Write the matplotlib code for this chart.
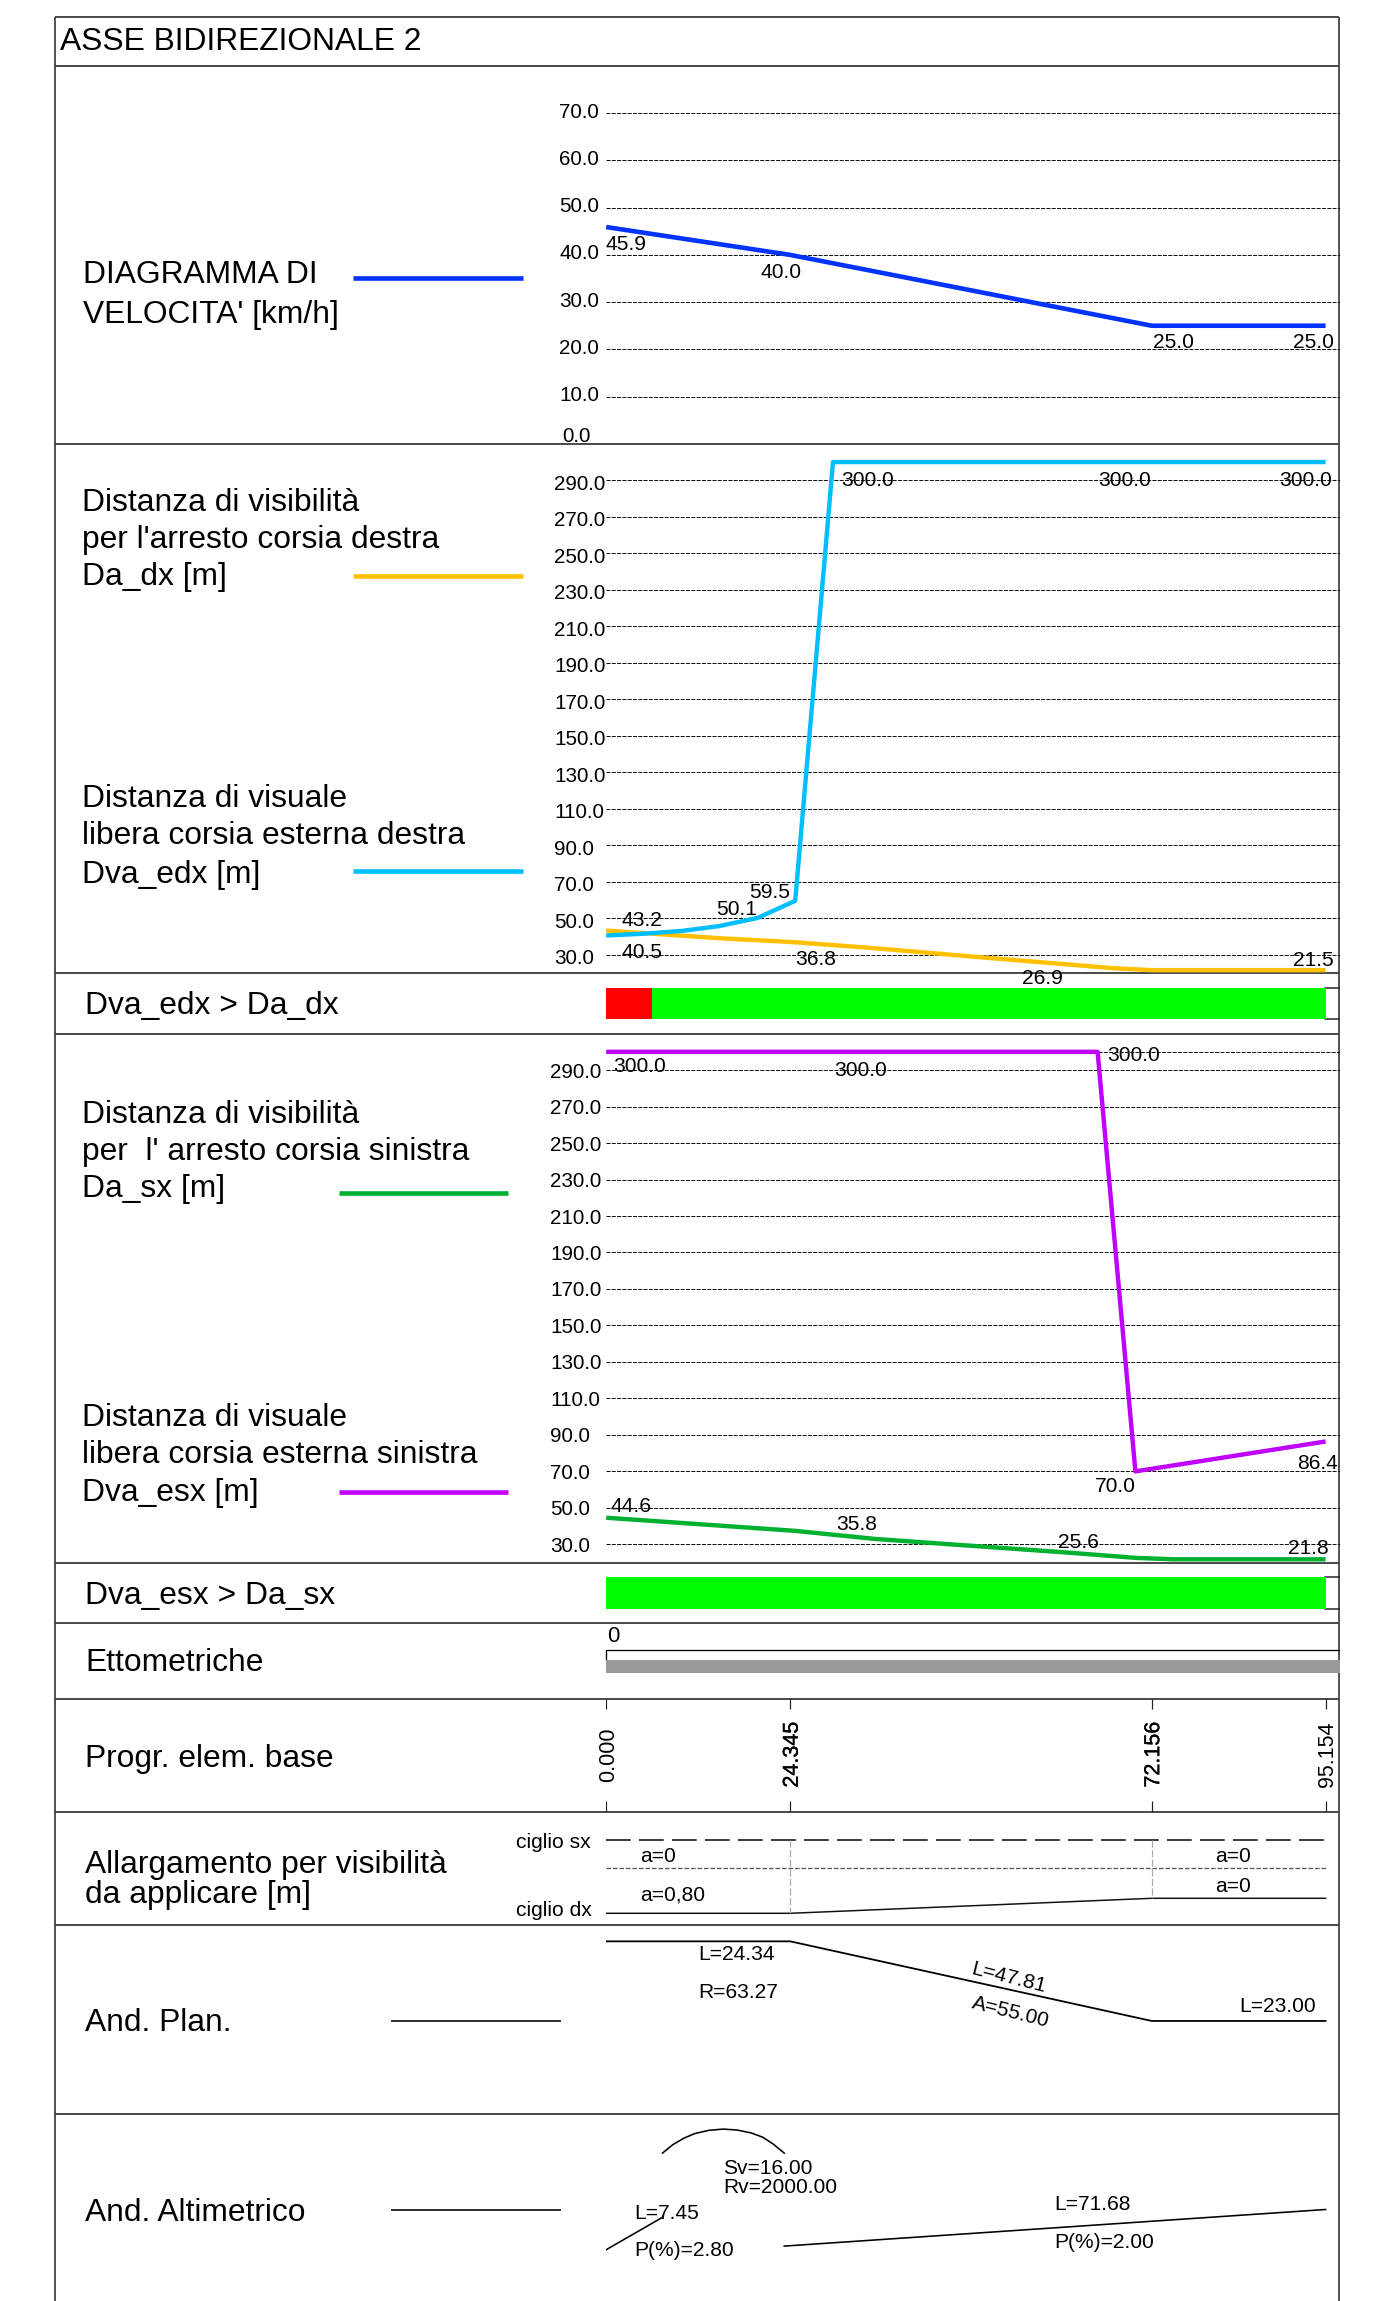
"""
Diagramma di velocita' e visibilita' - asse bidirezionale 2
"""
import matplotlib
matplotlib.use('Agg')
import matplotlib.pyplot as plt
import matplotlib.patheffects as pe
from matplotlib.transforms import ScaledTranslation

plt.rcParams['font.family'] = ['Liberation Sans', 'DejaVu Sans']

W, H = 1375, 2301
px = 0.72  # one pixel in points at dpi 100
FS_BIG = 22.9
FS_SMALL = 15.1
FS_TICK = 14.9

# progressive values
progr = [0.0, 24.345, 72.156, 95.154]
progr_labels = ['0.000', '24.345', '72.156', '95.154']

# speed diagram
speed_x = [0, 24.345, 72.156, 95.154]
speed_y = [45.9, 40.0, 25.0, 25.0]
speed_ticks = [0, 10, 20, 30, 40, 50, 60, 70]

# visibility, right lane
da_dx_x = [0, 15, 25, 35, 50, 60, 67, 72.156, 95.154]
da_dx_y = [43.2, 39.0, 36.8, 33.7, 28.4, 25.0, 22.6, 21.5, 21.5]
dva_edx_x = [0, 5, 10, 15, 20, 25, 30, 95.154]
dva_edx_y = [40.5, 41.5, 43.0, 45.7, 50.1, 59.5, 300.0, 300.0]

# visibility, left lane
da_sx_x = [0, 25, 35.5, 46.3, 60.7, 70, 75, 95.154]
da_sx_y = [44.6, 37.4, 33.0, 29.8, 25.6, 22.6, 21.8, 21.8]
dva_esx_x = [0, 65, 70, 95.154]
dva_esx_y = [300.0, 300.0, 70.0, 86.4]
dist_ticks = [30, 50, 70, 90, 110, 130, 150, 170, 190, 210, 230, 250, 270, 290]

# check bars (start, end of each stretch)
check_dx_red = (0, 6.1)
check_dx_green = (6.1, 95.154)
check_sx_green = (0, 95.154)

# widening at the right edge
allarg_x = [0, 24.345, 72.156, 95.154]
allarg_y = [0.8, 0.8, 0.0, 0.0]

# plan: curvature 1000/R
plan_x = [0, 24.345, 72.156, 95.154]
plan_y = [15.8, 15.8, 0, 0]

# profile: schematic heights
alt_grade1_x = [0, 7.45]
alt_grade1_y = [0, 10.8]
alt_arc_x = [7.45, 8.8, 10.3, 11.7, 13.6, 15.5, 17.3, 19.2, 20.7, 22.1, 23.55]
alt_arc_y = [32.2, 35, 37.2, 38.7, 39.8, 40.2, 39.9, 38.9, 37.5, 35.2, 32.2]
alt_grade2_x = [23.55, 95.154]
alt_grade2_y = [1.2, 13.4]

fig = plt.figure(figsize=(W / 100, H / 100), dpi=100, facecolor='white')

# sheet in pixel coordinates for frame and text
bg = fig.add_axes([0, 0, 1, 1])
bg.set_xlim(0, W)
bg.set_ylim(H, 0)
bg.axis('off')

X0, X1 = 606.2, 1339.5
XMAX = (X1 - X0) / 7.56


def panel(top, bottom, ylim):
    ax = fig.add_axes([X0 / W, 1 - bottom / H, (X1 - X0) / W, (bottom - top) / H])
    ax.set_xlim(0, XMAX)
    ax.set_ylim(*ylim)
    ax.patch.set_alpha(0)
    for s in ax.spines.values():
        s.set_visible(False)
    ax.set_xticks([])
    ax.set_yticks([])
    return ax


def graph(top, bottom, ylim, ticks, fmt_left, dy):
    ax = panel(top, bottom, ylim)
    ax.set_yticks(ticks)
    ax.set_yticklabels(['%.1f' % t for t in ticks], fontsize=FS_TICK, ha='left')
    ax.tick_params(axis='y', length=0, pad=(X0 - fmt_left) * px)
    ax.grid(True, axis='y', color='#111111', lw=1.0 * px, ls=(0, (4, 1.3)))
    ax.set_axisbelow(True)
    off = ScaledTranslation(0, -dy * px / 72, fig.dpi_scale_trans)
    for lab in ax.get_yticklabels():
        lab.set_transform(lab.get_transform() + off)
    return ax


# frame and row lines
for y in [17, 66, 443.8, 972.9, 1033.6, 1562.6, 1623, 1698.7, 1811.7, 1925.3, 2114.3]:
    bg.plot([55, 1339.5], [y, y], color='#222222', lw=1.6 * px, solid_capstyle='butt')
for x in [55, 1339.5]:
    bg.plot([x, x], [17, H], color='#444444', lw=1.8 * px, solid_capstyle='butt')

# labels on the left
big_texts = [
    ('ASSE BIDIREZIONALE 2', 60, 50),
    ('DIAGRAMMA DI', 83, 283),
    ("VELOCITA' [km/h]", 83, 323),
    ('Distanza di visibilità', 82.5, 510.8),
    ("per l'arresto corsia destra", 82.5, 548),
    ('Da_dx [m]', 82.5, 585.4),
    ('Distanza di visuale', 82.5, 806.6),
    ('libera corsia esterna destra', 82.5, 844),
    ('Dva_edx [m]', 82.5, 882.8),
    ('Dva_edx > Da_dx', 85.5, 1014),
    ('Distanza di visibilità', 82.3, 1123),
    ("per  l' arresto corsia sinistra", 82.3, 1160),
    ('Da_sx [m]', 82.3, 1197.5),
    ('Distanza di visuale', 82.3, 1425.6),
    ('libera corsia esterna sinistra', 82.3, 1463),
    ('Dva_esx [m]', 82.3, 1501),
    ('Dva_esx > Da_sx', 85.5, 1604),
    ('Ettometriche', 85.5, 1671.4),
    ('Progr. elem. base', 85.5, 1767),
    ('Allargamento per visibilità', 85.5, 1873),
    ('da applicare [m]', 85.5, 1903),
    ('And. Plan.', 85.5, 2031),
    ('And. Altimetrico', 85.5, 2220.8),
]
for txt, x, y in big_texts:
    bg.text(x, y, txt, fontsize=FS_BIG, color='black', va='baseline', ha='left')

# legend samples
legend_rows = [
    (353, 523, 277.7, '#0033FF', 4.6),
    (353, 523, 576.2, '#FFC000', 4.6),
    (353, 523, 871.3, '#00BFFF', 4.6),
    (339, 508, 1192.6, '#00B030', 4.6),
    (339, 508, 1492, '#C000FF', 4.6),
    (390.7, 560.7, 2020.9, 'black', 1.6),
    (390.7, 560.7, 2209.9, 'black', 1.6),
]
for x0, x1, y, c, w in legend_rows:
    bg.plot([x0, x1], [y, y], color=c, lw=w * px, solid_capstyle='butt')

# speed panel
ax1 = graph(66, 443.8, (0, 80), speed_ticks, 559.5, -3)
ax1.get_yticklabels()[0].set_visible(False)
bg.text(562, 434.7, '0.0', fontsize=FS_TICK, va='center_baseline', ha='left')
ax1.plot(speed_x, speed_y, color='#0033FF', lw=4.6 * px, solid_capstyle='butt', clip_on=False)

# right lane panel
ax2 = graph(443.8, 972.9, (20, 310), dist_ticks, 554.4, 2)
ax2.plot(da_dx_x, da_dx_y, color='#FFC000', lw=4.4 * px, solid_capstyle='butt', clip_on=False)
ax2.plot(dva_edx_x, dva_edx_y, color='#00BFFF', lw=4.4 * px, solid_capstyle='butt', clip_on=False)

# left lane panel
ax3 = graph(1033.6, 1562.6, (20, 310), dist_ticks, 550, 0)
ax3.hlines(300, 65, XMAX, color='#111111', lw=1.0 * px, ls=(0, (4, 1.3)))
ax3.plot(da_sx_x, da_sx_y, color='#00B030', lw=4.4 * px, solid_capstyle='butt', clip_on=False)
ax3.plot(dva_esx_x, dva_esx_y, color='#C000FF', lw=4.4 * px, solid_capstyle='butt', clip_on=False)

# values written next to the lines
value_labels = ['45.9', '40.0', '25.0', '25.0',
                '300.0', '300.0', '300.0', '43.2', '40.5', '36.8', '26.9', '21.5', '50.1', '59.5',
                '300.0', '300.0', '300.0', '70.0', '86.4', '44.6', '35.8', '25.6', '21.8']
value_x = [606, 760.5, 1152.6, 1293,
           841.4, 1098.6, 1279, 622, 622, 795.6, 1022.4, 1293.5, 715.7, 748.7,
           613, 834, 1107, 1095, 1297, 611, 836, 1058, 1288]
value_y = [242.7, 270.7, 340.7, 340.7,
           478.2, 478.2, 478.2, 918.7, 951, 957.9, 976.5, 958.3, 907.7, 890.7,
           1064, 1068, 1053.7, 1484.7, 1461.8, 1504.5, 1523, 1540, 1546.8]
for txt, x, y in zip(value_labels, value_x, value_y):
    bg.text(x, y, txt, fontsize=FS_SMALL, va='center_baseline', ha='left')

# check bars
bar_dx = panel(987.5, 1019.2, (0, 1))
bar_dx.barh(0.5, check_dx_red[1] - check_dx_red[0], left=check_dx_red[0], height=1, color='#FF0000')
bar_dx.barh(0.5, check_dx_green[1] - check_dx_green[0], left=check_dx_green[0], height=1, color='#00FF00')
bar_sx = panel(1577.3, 1608.5, (0, 1))
bar_sx.barh(0.5, check_sx_green[1] - check_sx_green[0], left=check_sx_green[0], height=1, color='#00FF00')
for top, bot in [(987.5, 1019.2), (1577.3, 1608.5)]:
    bg.plot([1325.5, 1339], [top, top], color='#222222', lw=1.5 * px)
    bg.plot([1325.5, 1339], [bot, bot], color='#222222', lw=1.5 * px)

# ettometriche
bg.text(607, 1633.5, '0', fontsize=16, va='center_baseline', ha='left')
bg.plot([X0, X0, X1], [1660, 1649.7, 1649.7], color='black', lw=1.3 * px)
ett = panel(1660.3, 1672.7, (0, 1))
ett.barh(0.5, XMAX, left=0, height=1, color='#999999')

# progressive ticks
ax_p = panel(1698.7, 1811.7, (0, 113))
ax_p.vlines(progr, 0, 10.7, color='#222222', lw=1.2 * px)
ax_p.vlines(progr, 102.5, 113, color='#222222', lw=1.2 * px)
for v, lab in zip(progr, progr_labels):
    t = ax_p.annotate(lab, (v, 57), xytext=(2 * px, 0), textcoords='offset points',
                      rotation=90, fontsize=15.5, ha='center', va='center', annotation_clip=False)
    if lab in ('24.345', '72.156'):
        t.set_path_effects([pe.withStroke(linewidth=0.2, foreground='black')])

# widening rows
ax_a = panel(1811.7, 1925.3, (1.44, -4.62))
ax_a.plot(allarg_x, allarg_y, color='#111111', lw=1.5 * px)
ax_a.hlines(-3.12, 0, progr[-1], color='black', lw=1.5 * px, ls=(0, (16.5, 5.5)))
ax_a.hlines(-1.6, 0, progr[-1], color='#555555', lw=1.3 * px, ls=(0, (3.5, 1.5)))
ax_a.vlines(progr[1], -3.12, allarg_y[1], color='#aaaaaa', lw=1.2 * px, ls=(0, (6, 2)))
ax_a.vlines(progr[2], -3.12, allarg_y[2], color='#aaaaaa', lw=1.2 * px, ls=(0, (6, 2)))
small_texts = [
    ('ciglio sx', 515.6, 1840), ('ciglio dx', 515.6, 1909),
    ('a=0', 640, 1854), ('a=0,80', 640, 1893), ('a=0', 1215, 1854), ('a=0', 1215, 1884),
    ('L=24.34', 698.7, 1953), ('R=63.27', 698.7, 1991), ('L=23.00', 1239.4, 2005),
    ('Sv=16.00', 723, 2166), ('Rv=2000.00', 723, 2185.7),
    ('L=7.45', 634, 2211.7), ('P(%)=2.80', 634, 2248.7),
    ('L=71.68', 1054, 2202), ('P(%)=2.00', 1054, 2240),
]
for txt, x, y in small_texts:
    bg.text(x, y, txt, fontsize=FS_SMALL, va='center_baseline', ha='left')
bg.text(1009, 1977.7, 'L=47.81', fontsize=FS_SMALL, rotation=-14, rotation_mode='anchor', ha='center', va='center')
bg.text(1010.6, 2012, 'A=55.00', fontsize=FS_SMALL, rotation=-14, rotation_mode='anchor', ha='center', va='center')

# plan
ax_pl = panel(1925.3, 2114.3, (-93.1 * 15.8 / 79.4, (2020.7 - 1925.3) * 15.8 / 79.4))
ax_pl.plot(plan_x, plan_y, color='black', lw=1.8 * px)

# profile
ax_alt = panel(2114.3, H, (-(H - 2249.7) * 10.8 / 32.4, (2249.7 - 2114.3) * 10.8 / 32.4))
ax_alt.plot(alt_grade1_x, alt_grade1_y, color='black', lw=1.6 * px)
ax_alt.plot(alt_arc_x, alt_arc_y, color='black', lw=1.6 * px)
ax_alt.plot(alt_grade2_x, alt_grade2_y, color='black', lw=1.6 * px)

fig.savefig('out.png', dpi=100, facecolor='white')
